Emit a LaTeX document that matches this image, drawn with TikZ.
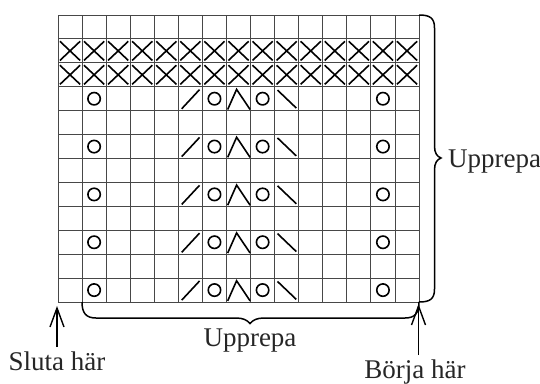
\documentclass[tikz,border=0pt]{standalone}
\usepackage{fontspec}
\setmainfont{Liberation Serif}
\tikzset{
  gridline/.style={draw=black!72, line width=0.85pt},
  sym/.style={draw=black, line width=1.6pt},
  bracepath/.style={draw=black, line width=1.5pt},
  label/.style={font=\fontsize{27}{31}\selectfont, text=black!85, inner sep=2pt},
  shaft/.style={draw=black, line width=1.4pt},
}
\begin{document}
\begin{tikzpicture}[x=1pt, y=-1pt]
\useasboundingbox (0,0) rectangle (540,383);
% grid
\begin{scope}[shift={(58,15)}, x=24.07pt, y=-23.92pt]
  \foreach \i in {0,...,15} \draw[gridline] (\i,0) -- (\i,12);
  \foreach \j in {0,...,12} \draw[gridline] (0,\j) -- (15,\j);
  % X rows
  \foreach \r in {1,2}
    \foreach \c in {0,...,14} {
      \draw[sym] (\c+0.08,\r+0.1) -- (\c+0.92,\r+0.9);
      \draw[sym] (\c+0.08,\r+0.9) -- (\c+0.92,\r+0.1);
    }
  % pattern rows
  \foreach \r in {3,5,7,9,11} {
    \foreach \c in {1,6,8,13}
      \draw[sym] (\c+0.5,\r+0.5) circle [radius=6.2pt];
    \draw[sym] (5+0.14,\r+0.92) -- (5+0.88,\r+0.12);
    \draw[sym] (7+0.05,\r+0.95) -- (7+0.42,\r+0.11) -- (7+0.98,\r+0.95);
    \draw[sym] (9+0.12,\r+0.14) -- (9+0.9,\r+0.89);
  }
\end{scope}
% right brace
\draw[bracepath] (419,15) .. controls (430,15) and (434.5,18) .. (434.5,28)
  -- (434.5,146) .. controls (434.5,153) and (437,156.5) .. (441,158)
  .. controls (437,159.5) and (434.5,163) .. (434.5,170)
  -- (434.5,289) .. controls (434.5,299) and (430,302) .. (419,302);
% bottom brace
\draw[bracepath] (82,302) .. controls (82,313) and (86,318) .. (96,318)
  -- (236,318) .. controls (243,318) and (247,320) .. (250,323.5)
  .. controls (253,320) and (257,318) .. (264,318)
  -- (405,318) .. controls (415,318) and (419,313) .. (419,302);
% labels
\node[label, anchor=base west] (rep1) at (446,167) {Upprepa};
\node[label, anchor=base] (rep2) at (250,346.5) {Upprepa};
\node[label, anchor=base] (sluta) at (57,370.7) {Sluta här};
\node[label, anchor=base] (borja) at (415,378.5) {Börja här};
% arrows
\coordinate (stip) at (57,308);
\coordinate (sfoot) at (57,347);
\coordinate (btip) at (418.5,306);
\coordinate (bfoot) at (418.5,355);
\draw[shaft] (sfoot) -- (stip);
\draw[shaft, line join=miter] ([xshift=-7pt, yshift=-19pt]stip) -- (stip) -- ([xshift=7pt, yshift=-19pt]stip);
\draw[shaft] (bfoot) -- (btip);
\draw[shaft, line join=miter] ([xshift=-7pt, yshift=-19pt]btip) -- (btip) -- ([xshift=7pt, yshift=-19pt]btip);
\end{tikzpicture}
\end{document}
